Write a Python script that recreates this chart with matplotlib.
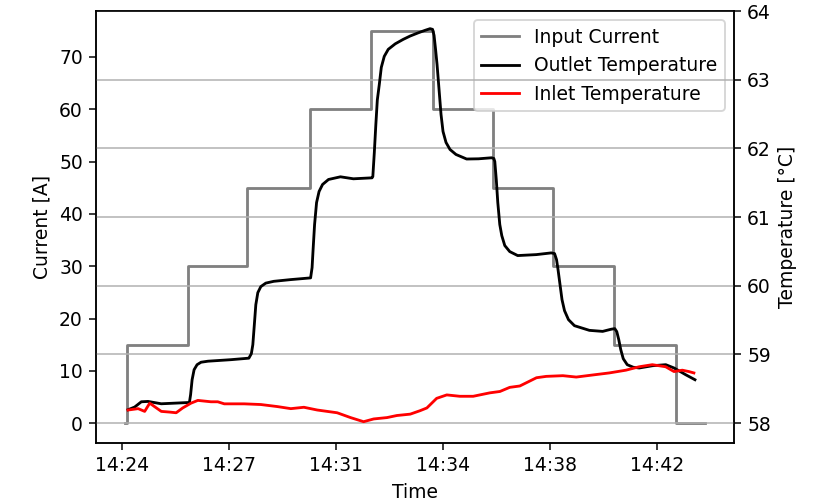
import matplotlib
matplotlib.use("Agg")
import matplotlib.pyplot as plt

# time in minutes after 14:00
current_t = [24.10, 24.17, 26.21, 28.22, 30.32, 32.39, 34.45, 36.49, 38.50, 40.56, 42.64, 43.62]
current_v = [0, 15, 30, 45, 60, 75, 60, 45, 30, 15, 0, 0]

outlet_t = [24.201, 24.422, 24.647, 24.872, 25.317, 25.877, 26.266, 26.306, 26.357, 26.424,
            26.524, 26.658, 26.893, 27.664, 28.267, 28.351, 28.401, 28.452, 28.502, 28.569,
            28.670, 28.837, 29.105, 29.675, 30.346, 30.396, 30.430, 30.480, 30.547, 30.631,
            30.748, 30.949, 31.351, 31.787, 32.414, 32.441, 32.491, 32.541, 32.592, 32.659,
            32.726, 32.826, 32.960, 33.195, 33.463, 33.698, 33.966, 34.201, 34.368, 34.452,
            34.502, 34.553, 34.603, 34.670, 34.737, 34.804, 34.905, 35.039, 35.240, 35.599,
            35.998, 36.437, 36.514, 36.547, 36.597, 36.648, 36.715, 36.782, 36.883, 37.050,
            37.318, 37.945, 38.448, 38.559, 38.626, 38.676, 38.743, 38.810, 38.894, 39.028,
            39.229, 39.732, 40.178, 40.470, 40.587, 40.654, 40.721, 40.788, 40.872, 41.006,
            41.207, 41.408, 41.854, 42.303, 42.582, 42.974, 43.286]
outlet_T = [58.194, 58.233, 58.310, 58.315, 58.281, 58.292, 58.300, 58.413, 58.631, 58.777,
            58.850, 58.886, 58.901, 58.923, 58.945, 59.010, 59.141, 59.433, 59.724, 59.899,
            59.987, 60.038, 60.064, 60.089, 60.114, 60.264, 60.526, 60.891, 61.211, 61.372,
            61.474, 61.547, 61.586, 61.557, 61.571, 61.590, 61.938, 62.336, 62.704, 62.931,
            63.179, 63.340, 63.442, 63.522, 63.587, 63.636, 63.682, 63.719, 63.743, 63.733,
            63.646, 63.442, 63.223, 62.859, 62.494, 62.246, 62.086, 61.984, 61.911, 61.845,
            61.848, 61.863, 61.853, 61.809, 61.547, 61.211, 60.891, 60.730, 60.585, 60.497,
            60.439, 60.453, 60.478, 60.468, 60.380, 60.235, 60.016, 59.797, 59.637, 59.506,
            59.418, 59.350, 59.335, 59.367, 59.375, 59.331, 59.214, 59.069, 58.937, 58.850,
            58.813, 58.802, 58.835, 58.850, 58.802, 58.704, 58.631]

inlet_t = [24.20, 24.54, 24.76, 24.93, 25.09, 25.32, 25.60, 25.82, 26.04, 26.32, 26.55, 26.99,
           27.22, 27.44, 28.11, 28.67, 29.23, 29.68, 30.12, 30.57, 31.24, 31.69, 32.13, 32.47,
           32.92, 33.25, 33.70, 34.03, 34.26, 34.59, 34.93, 35.37, 35.82, 36.38, 36.72, 37.05,
           37.39, 37.95, 38.28, 38.84, 39.29, 39.84, 40.40, 40.96, 41.41, 41.85, 42.30, 42.58,
           42.86, 43.08, 43.25]
inlet_T = [58.19, 58.21, 58.17, 58.29, 58.24, 58.17, 58.16, 58.15, 58.22, 58.29, 58.33, 58.31,
           58.31, 58.28, 58.28, 58.27, 58.24, 58.21, 58.23, 58.19, 58.15, 58.08, 58.02, 58.06,
           58.08, 58.11, 58.13, 58.18, 58.22, 58.36, 58.41, 58.39, 58.39, 58.44, 58.46, 58.52,
           58.54, 58.66, 58.68, 58.69, 58.67, 58.70, 58.73, 58.77, 58.82, 58.85, 58.82, 58.75,
           58.77, 58.75, 58.73]

tick_pos = [24.0, 27.6, 31.2, 34.8, 38.4, 42.0]
tick_labels = ["14:24", "14:27", "14:31", "14:34", "14:38", "14:42"]

DPI = 135
fig = plt.figure(figsize=(816 / DPI, 501 / DPI), dpi=DPI)
ax1 = fig.add_axes([0.1176, 0.1158, 0.8995 - 0.1176, 0.978 - 0.1158])
ax2 = ax1.twinx()

l1, = ax1.plot(current_t, current_v, drawstyle="steps-post", color="gray", lw=1.5, label="Input Current")
l2, = ax2.plot(outlet_t, outlet_T, color="black", lw=1.5, label="Outlet Temperature")
l3, = ax2.plot(inlet_t, inlet_T, color="red", lw=1.5, label="Inlet Temperature")

ax1.set_xlim(23.12, 44.6)
ax1.set_ylim(-3.75, 78.75)
ax2.set_ylim(57.71, 64.0)
ax1.set_xticks(tick_pos)
ax1.set_xticklabels(tick_labels)
ax2.set_yticks([58, 59, 60, 61, 62, 63, 64])
ax2.grid(axis="y", color="#b0b0b0", lw=0.8)

ax1.set_xlabel("Time")
ax1.set_ylabel("Current [A]")
ax2.set_ylabel("Temperature [°C]")

ax1.legend(handles=[l1, l2, l3], loc="upper right")

fig.savefig("out.png", dpi=DPI)
